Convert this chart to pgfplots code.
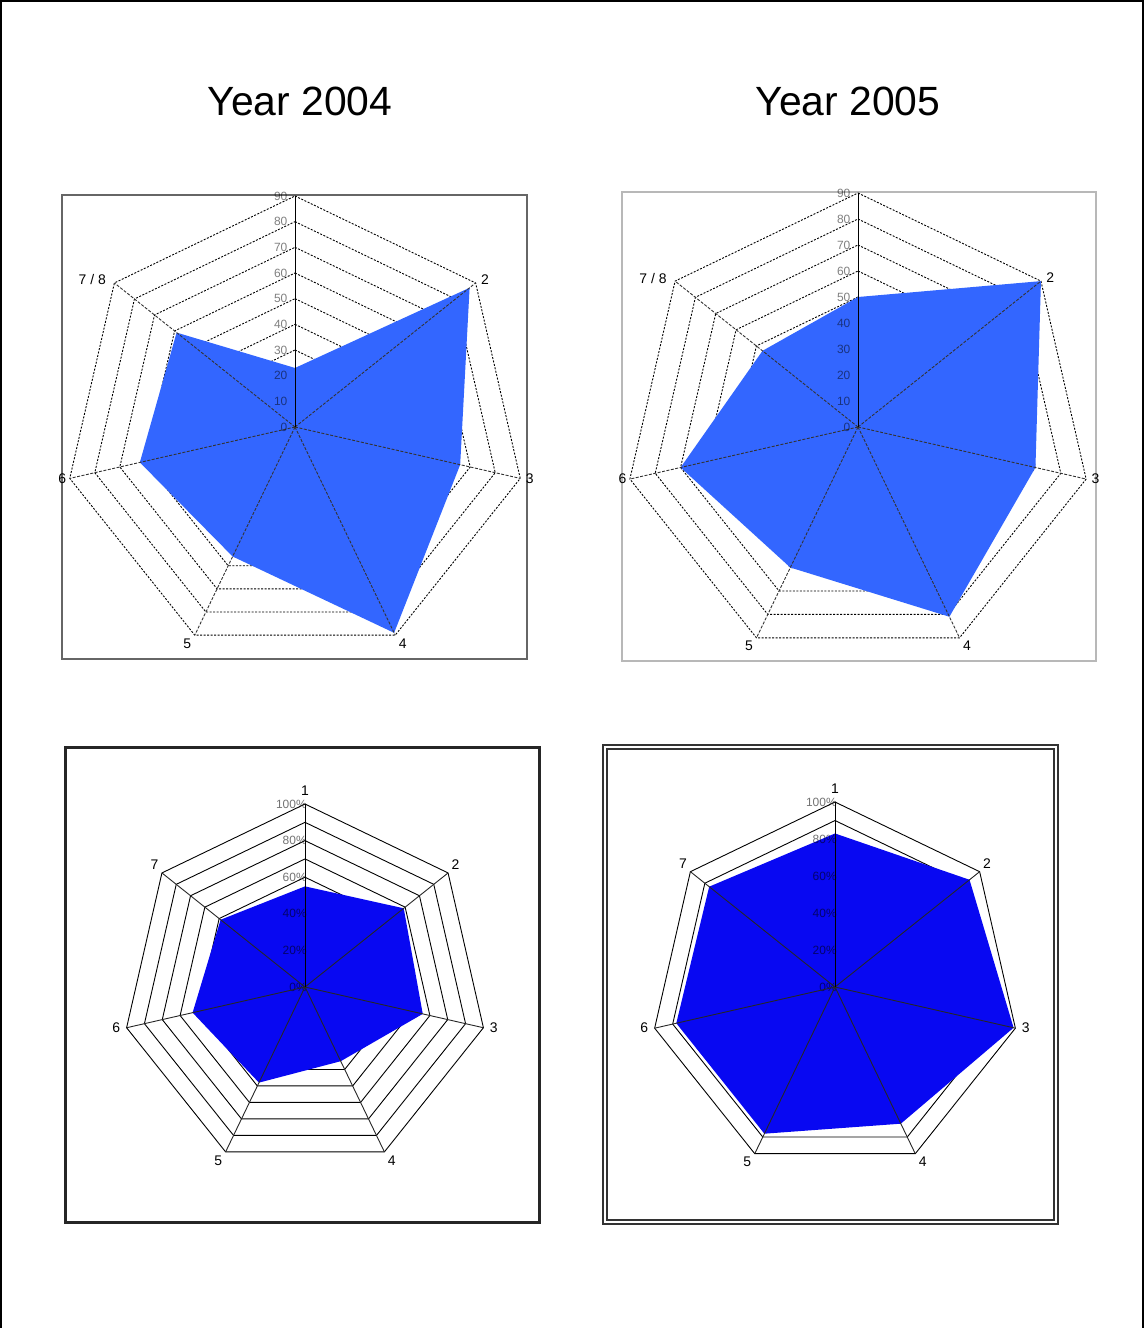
\documentclass[border=0pt]{standalone}
\usepackage{pgfplots}
\pgfplotsset{compat=1.18}
\usepgfplotslibrary{polar}
\usepackage{fontspec}
\setmainfont{Liberation Sans}
\definecolor{topblue}{RGB}{51,102,255}
\definecolor{botblue}{RGB}{8,8,242}

\pgfplotsset{
  radar/.style={hide axis, clip=false, anchor=center,
    xmin=-100,xmax=100,ymin=-100,ymax=100},
  gridline/.style={no marks, data cs=polar, black, line width=0.9bp},
}
\newcommand{\ring}[2]{\addplot[gridline,#2] coordinates {(90,#1) (38.571,#1) (-12.857,#1) (-64.286,#1) (-115.714,#1) (-167.143,#1) (141.429,#1) (90,#1)};}
\newcommand{\spokes}[2]{%
  \addplot[gridline,#2] coordinates {(0,0) (38.571,#1)};
  \addplot[gridline,#2] coordinates {(0,0) (-12.857,#1)};
  \addplot[gridline,#2] coordinates {(0,0) (-64.286,#1)};
  \addplot[gridline,#2] coordinates {(0,0) (-115.714,#1)};
  \addplot[gridline,#2] coordinates {(0,0) (-167.143,#1)};
  \addplot[gridline,#2] coordinates {(0,0) (141.429,#1)};}
\newcommand{\catlabel}[5]{\node[anchor=#3,#5] at (axis cs:{#2*cos(#1)},{#2*sin(#1)}) {#4};}

\begin{document}
\begin{tikzpicture}[x=1bp,y=-1bp]
\path[use as bounding box] (0,0) rectangle (1144,1328);
\draw[line width=1.5bp] (1,1328) -- (1,1) -- (1143,1) -- (1143,1328);

\node[font=\fontsize{41}{45}\selectfont] at (300,101) {Year 2004};
\node[font=\fontsize{41}{45}\selectfont] at (848,101) {Year 2005};

% frames
\draw[line width=1.8bp, black!60] (62,195) rectangle (527,659);
\draw[line width=1.2bp, black!28] (622,192) rectangle (1096,661);
\draw[line width=3bp, black!85] (65,747) rectangle (539,1222);
\draw[line width=1.2bp, black!80] (603,745) rectangle (1058,1224);
\draw[line width=2bp, black!80] (607,749) rectangle (1054,1220);

% ---------- top left: Year 2004 ----------
\begin{axis}[radar, at={(295bp,-427bp)}, x=2.567bp, y=2.567bp]
\pgfplotsinvokeforeach{10,20,...,90}{\ring{#1}{dash pattern=on 2bp off 1.5bp}}
\addplot[data cs=polar, fill=topblue, draw=none] coordinates {
 (90,23) (38.571,87) (-12.857,66) (-64.286,89) (-115.714,56) (-167.143,62) (141.429,59) (90,23)};
\spokes{90}{dash pattern=on 3bp off 1.5bp, black!80}
\addplot[gridline] coordinates {(0,0) (90,90)};
\pgfplotsinvokeforeach{0,10,...,90}{\node[anchor=east, font=\fontsize{12}{13}\selectfont, text=black, text opacity=0.5, inner sep=1bp] at (axis cs:-2.5,#1) {#1};}
\catlabel{38.571}{90}{west}{2}{xshift=2bp,yshift=3bp,font=\fontsize{14}{15}\selectfont}
\catlabel{-12.857}{90}{west}{3}{xshift=2bp,font=\fontsize{14}{15}\selectfont}
\catlabel{-64.286}{90}{north west}{4}{font=\fontsize{14}{15}\selectfont}
\catlabel{-115.714}{90}{north east}{5}{font=\fontsize{14}{15}\selectfont}
\catlabel{-167.143}{90}{east}{6}{font=\fontsize{14}{15}\selectfont}
\catlabel{141.429}{90}{east}{7 / 8}{xshift=-5bp,yshift=3bp,font=\fontsize{14}{15}\selectfont}
\end{axis}

% ---------- top right: Year 2005 ----------
\begin{axis}[radar, at={(858bp,-427bp)}, x=2.6bp, y=2.6bp]
\pgfplotsinvokeforeach{10,20,...,90}{\ring{#1}{dash pattern=on 2bp off 1.5bp}}
\addplot[data cs=polar, fill=topblue, draw=none] coordinates {
 (90,50) (38.571,90) (-12.857,70) (-64.286,81) (-115.714,60) (-167.143,70) (141.429,47) (90,50)};
\spokes{90}{dash pattern=on 3bp off 1.5bp, black!80}
\addplot[gridline] coordinates {(0,0) (90,90)};
\pgfplotsinvokeforeach{0,10,...,90}{\node[anchor=east, font=\fontsize{12}{13}\selectfont, text=black, text opacity=0.5, inner sep=1bp] at (axis cs:-2.5,#1) {#1};}
\catlabel{38.571}{90}{west}{2}{xshift=2bp,yshift=3bp,font=\fontsize{14}{15}\selectfont}
\catlabel{-12.857}{90}{west}{3}{xshift=2bp,font=\fontsize{14}{15}\selectfont}
\catlabel{-64.286}{90}{north west}{4}{font=\fontsize{14}{15}\selectfont}
\catlabel{-115.714}{90}{north east}{5}{font=\fontsize{14}{15}\selectfont}
\catlabel{-167.143}{90}{east}{6}{font=\fontsize{14}{15}\selectfont}
\catlabel{141.429}{90}{east}{7 / 8}{xshift=-5bp,yshift=3bp,font=\fontsize{14}{15}\selectfont}
\end{axis}

% ---------- bottom left ----------
\begin{axis}[radar, at={(305bp,-987bp)}, x=1.83bp, y=1.83bp]
\pgfplotsinvokeforeach{10,20,...,100}{\ring{#1}{line width=0.9bp}}
\addplot[data cs=polar, fill=botblue, draw=none] coordinates {
 (90,55) (38.571,69) (-12.857,66) (-64.286,45) (-115.714,58) (-167.143,63) (141.429,59) (90,55)};
\pgfplotsinvokeforeach{0,20,...,100}{\node[anchor=east, font=\fontsize{12}{13}\selectfont, text=black, text opacity=0.55, inner sep=0bp] at (axis cs:1,#1) {#1\%};}
\spokes{100}{line width=0.9bp, black!85}
\addplot[gridline, line width=1bp] coordinates {(0,0) (90,100)};
\catlabel{90}{100}{south}{1}{yshift=5bp,font=\fontsize{14}{15}\selectfont}
\catlabel{38.571}{100}{south west}{2}{font=\fontsize{14}{15}\selectfont}
\catlabel{-12.857}{100}{west}{3}{xshift=3bp,font=\fontsize{14}{15}\selectfont}
\catlabel{-64.286}{100}{north west}{4}{font=\fontsize{14}{15}\selectfont}
\catlabel{-115.714}{100}{north east}{5}{font=\fontsize{14}{15}\selectfont}
\catlabel{-167.143}{100}{east}{6}{xshift=-3bp,font=\fontsize{14}{15}\selectfont}
\catlabel{141.429}{100}{south east}{7}{font=\fontsize{14}{15}\selectfont}
\end{axis}

% ---------- bottom right ----------
\begin{axis}[radar, at={(835bp,-987bp)}, x=1.85bp, y=1.85bp]
\pgfplotsinvokeforeach{10,20,...,100}{\ring{#1}{line width=0.9bp}}
\addplot[data cs=polar, fill=botblue, draw=none] coordinates {
 (90,83) (38.571,93) (-12.857,99) (-64.286,82) (-115.714,88) (-167.143,88) (141.429,87) (90,83)};
\pgfplotsinvokeforeach{0,20,...,100}{\node[anchor=east, font=\fontsize{12}{13}\selectfont, text=black, text opacity=0.55, inner sep=0bp] at (axis cs:1,#1) {#1\%};}
\spokes{100}{line width=0.9bp, black!85}
\addplot[gridline, line width=1bp] coordinates {(0,0) (90,100)};
\catlabel{90}{100}{south}{1}{yshift=5bp,font=\fontsize{14}{15}\selectfont}
\catlabel{38.571}{100}{south west}{2}{font=\fontsize{14}{15}\selectfont}
\catlabel{-12.857}{100}{west}{3}{xshift=3bp,font=\fontsize{14}{15}\selectfont}
\catlabel{-64.286}{100}{north west}{4}{font=\fontsize{14}{15}\selectfont}
\catlabel{-115.714}{100}{north east}{5}{font=\fontsize{14}{15}\selectfont}
\catlabel{-167.143}{100}{east}{6}{xshift=-3bp,font=\fontsize{14}{15}\selectfont}
\catlabel{141.429}{100}{south east}{7}{font=\fontsize{14}{15}\selectfont}
\end{axis}
\end{tikzpicture}
\end{document}
